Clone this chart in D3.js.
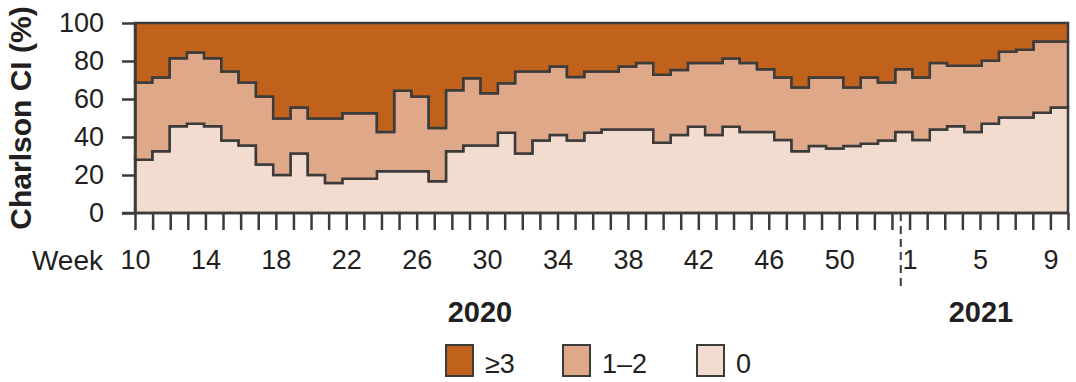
<!DOCTYPE html>
<meta charset="utf-8">

<!-- Load d3.js -->
<script src="https://d3js.org/d3.v7.min.js"></script>

<style>
  body { margin: 0; background: #fff; }
  text { font-family: "Liberation Sans", Arial, sans-serif; fill: #231f20; }
</style>

<!-- Create a div where the graph will take place -->
<div id="my_dataviz"></div>

<script>
// week keys (ISO weeks, 2020 has 53 weeks)
var weeks = ["2020-10","2020-11","2020-12","2020-13","2020-14","2020-15","2020-16","2020-17","2020-18","2020-19",
  "2020-20","2020-21","2020-22","2020-23","2020-24","2020-25","2020-26","2020-27","2020-28","2020-29",
  "2020-30","2020-31","2020-32","2020-33","2020-34","2020-35","2020-36","2020-37","2020-38","2020-39",
  "2020-40","2020-41","2020-42","2020-43","2020-44","2020-45","2020-46","2020-47","2020-48","2020-49",
  "2020-50","2020-51","2020-52","2020-53",
  "2021-1","2021-2","2021-3","2021-4","2021-5","2021-6","2021-7","2021-8","2021-9","2021-10"];

// tick labels shown on the x axis
var tickWeeks = ["2020-10","2020-14","2020-18","2020-22","2020-26","2020-30","2020-34","2020-38",
  "2020-42","2020-46","2020-50","2021-1","2021-5","2021-9"];

// share of patients (%) per Charlson CI group, one value per week
var cci0 = [28,32.5,45.7,47,45.7,38.2,35.5,25.5,20,31.3,
  20,15.8,18,18,22,22,22,16.7,32.5,35.5,
  35.5,42.2,31.3,38.2,41,38.2,42.2,44,44,44,
  37,41,45.4,41,45.4,42.6,42.6,38.4,32.5,35.2,
  34,35.2,36.4,38.2,
  42.6,38.4,44,45.7,42.6,47,50.2,50.2,52.8,55.5];

var cci12 = [40.7,38.8,35.8,37.5,35.8,36.3,33.2,35.8,29.8,24.2,
  29.8,34,34.5,34.5,20.6,42.3,39.3,28,32.1,35.4,
  27.5,26.1,43.2,36.3,36.1,33.4,32.3,30.5,33.1,34.9,
  35.7,34.3,33.5,37.9,35.9,36.4,33.1,32.9,33.5,36.1,
  37.3,30.8,34.9,30.5,
  33.1,32.9,34.9,31.8,34.9,33.1,34.7,35.7,37.5,34.8];

var cci3 = [31.3,28.7,18.5,15.5,18.5,25.5,31.3,38.7,50.2,44.5,
  50.2,50.2,47.5,47.5,57.4,35.7,38.7,55.3,35.4,29.1,
  37,31.7,25.5,25.5,22.9,28.4,25.5,25.5,22.9,21.1,
  27.3,24.7,21.1,21.1,18.7,21,24.3,28.7,34,28.7,
  28.7,34,28.7,31.3,
  24.3,28.7,21.1,22.5,22.5,19.9,15.1,14.1,9.7,9.7];

var groups = ["0", "1\u20132", "\u22653"];
var legendOrder = ["\u22653", "1\u20132", "0"];
var colors = {"0": "#f2dccf", "1\u20132": "#dfa888", "\u22653": "#c0621b"};

// set the dimensions and margins of the graph
var W = 1076, H = 382;
var margin = {top: 23, right: 8, bottom: 169, left: 135},
    width = W - margin.left - margin.right,
    height = H - margin.top - margin.bottom;

var svg = d3.select("#my_dataviz")
  .append("svg")
    .attr("width", W)
    .attr("height", H)
  .append("g")
    .attr("transform", "translate(" + margin.left + "," + margin.top + ")");

// table for the stack
var table = weeks.map(function(w, i) {
  var row = {week: w};
  row["0"] = cci0[i];
  row["1\u20132"] = cci12[i];
  row["\u22653"] = cci3[i];
  return row;
});

var stacked = d3.stack().keys(groups)(table);

// bands for the weekly steps, points for the week ticks
var xBand = d3.scaleBand().domain(weeks).range([0, width]).padding(0);
var xPoint = d3.scalePoint().domain(weeks).range([0, width]);
var y = d3.scaleLinear().domain([0, 100]).range([height, 0]);

// step area per layer
var area = d3.area()
  .curve(d3.curveStepAfter)
  .x(function(d) { return d.x; })
  .y0(function(d) { return y(d.y0); })
  .y1(function(d) { return y(d.y1); });

stacked.forEach(function(layer) {
  var pts = layer.map(function(d) {
    return {x: xBand(d.data.week), y0: d[0], y1: d[1]};
  });
  var last = layer[layer.length - 1];
  pts.push({x: xBand(last.data.week) + xBand.bandwidth(), y0: last[0], y1: last[1]});
  svg.append("path")
    .datum(pts)
    .attr("d", area)
    .attr("fill", colors[layer.key])
    .attr("stroke", "#3b3b3b")
    .attr("stroke-width", 2.5)
    .attr("stroke-linejoin", "miter");
});

// Y axis
var yAxis = svg.append("g")
  .call(d3.axisLeft(y).tickValues([0, 20, 40, 60, 80, 100]).tickSize(13).tickPadding(18).tickSizeOuter(0));
yAxis.select(".domain").attr("stroke", "#3b3b3b").attr("stroke-width", 2.5);
yAxis.selectAll(".tick line").attr("stroke", "#3b3b3b").attr("stroke-width", 2.5);
yAxis.selectAll("text").style("font-size", "27px").attr("fill", "#231f20");

// X axis, a tick for every week
var xAxis = svg.append("g")
  .attr("transform", "translate(0," + height + ")")
  .call(d3.axisBottom(xPoint)
    .tickSize(17)
    .tickPadding(20)
    .tickSizeOuter(0)
    .tickFormat(function(w) { return tickWeeks.indexOf(w) >= 0 ? w.split("-")[1] : ""; }));
xAxis.select(".domain").remove();
xAxis.selectAll(".tick line").attr("stroke", "#3b3b3b").attr("stroke-width", 2.5);
xAxis.selectAll("text").style("font-size", "27px").attr("fill", "#231f20");

// axis line, runs out to the left like the y ticks
svg.append("line")
  .attr("x1", -13).attr("x2", width)
  .attr("y1", height).attr("y2", height)
  .attr("stroke", "#3b3b3b").attr("stroke-width", 2.5);

// "Week" label in front of the ticks
svg.append("text")
  .attr("x", -32)
  .attr("y", height + 57)
  .attr("text-anchor", "end")
  .style("font-size", "28px")
  .text("Week");

// dashed year separator
var sep = (xPoint("2020-53") + xPoint("2021-1")) / 2;
svg.append("line")
  .attr("x1", sep).attr("x2", sep)
  .attr("y1", height).attr("y2", height + 77)
  .attr("stroke", "#3b3b3b").attr("stroke-width", 2)
  .attr("stroke-dasharray", "8,5");

// year labels
svg.append("text")
  .attr("x", 345).attr("y", height + 109)
  .attr("text-anchor", "middle")
  .style("font-size", "29px").style("font-weight", "bold")
  .text("2020");
svg.append("text")
  .attr("x", 846).attr("y", height + 109)
  .attr("text-anchor", "middle")
  .style("font-size", "29px").style("font-weight", "bold")
  .text("2021");

// y axis title
svg.append("text")
  .attr("transform", "translate(" + (20 - margin.left) + "," + (118 - margin.top) + ")rotate(-90)")
  .attr("text-anchor", "middle")
  .attr("dy", "0.35em")
  .style("font-size", "30px").style("font-weight", "bold")
  .text("Charlson CI (%)");

// legend
var legendX = [311, 428, 562];
var legend = svg.selectAll(".legend")
  .data(legendOrder)
  .enter().append("g")
  .attr("class", "legend")
  .attr("transform", function(d, i) { return "translate(" + legendX[i] + "," + (H - margin.top - 37) + ")"; });
legend.append("rect")
  .attr("width", 27).attr("height", 31)
  .attr("fill", function(d) { return colors[d]; })
  .attr("stroke", "#3b3b3b").attr("stroke-width", 2);
legend.append("text")
  .attr("x", 39).attr("y", 28)
  .style("font-size", "27px")
  .text(function(d) { return d; });
</script>
